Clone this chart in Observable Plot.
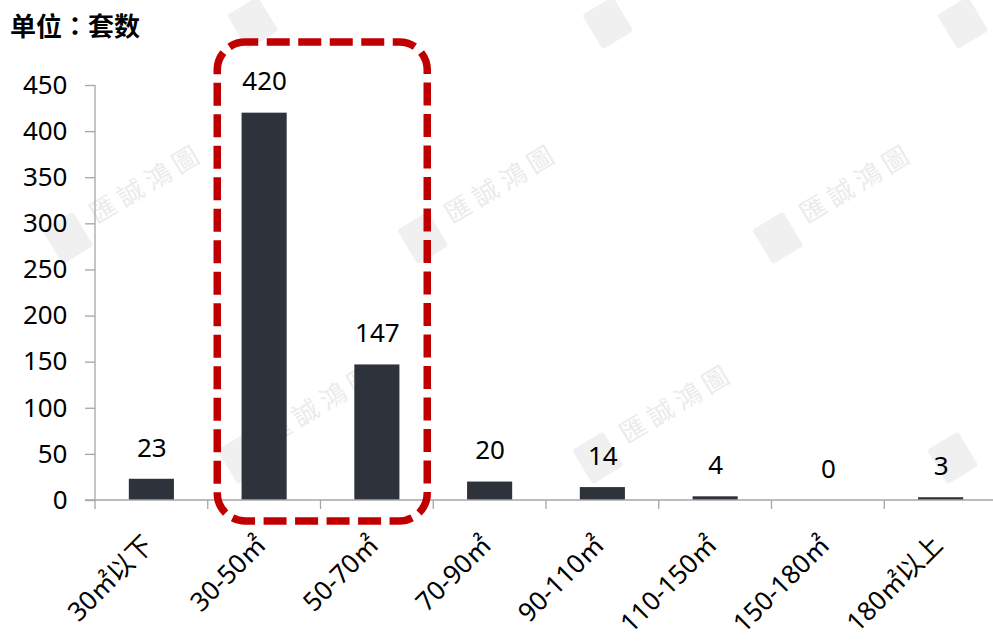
<!DOCTYPE html>
<html><head><meta charset="utf-8">
<script src="https://cdn.jsdelivr.net/npm/d3@7"></script>
<script src="https://cdn.jsdelivr.net/npm/@observablehq/plot@0.6"></script>
<style>
body{margin:0;background:#fff;}
#wrap{position:relative;width:993px;height:644px;overflow:hidden;background:#fff;}
#title{position:absolute;left:10px;top:6px;font:bold 26px "Noto Sans CJK SC",sans-serif;color:#000;z-index:3;}
#title .p{font-family:"Noto Sans CJK TC",sans-serif;}
#wm{position:absolute;left:0;top:0;z-index:1;}
#chart{position:absolute;left:0;top:0;z-index:2;}
</style></head><body>
<div id="wrap"><div id="title">单位<span class="p">：</span>套数</div><svg id="wm" width="993" height="644"></svg><div id="chart"></div></div>
<script>
const categories = ["30㎡以下","30-50㎡","50-70㎡","70-90㎡","90-110㎡","110-150㎡","150-180㎡","180㎡以上"];
const values = [23,420,147,20,14,4,0,3];
const yTicks = [0,50,100,150,200,250,300,350,400,450];
const highlight = ["30-50㎡","50-70㎡"];
const watermarkText = "匯誠鴻圖";

const data = categories.map((c,i)=>({category:c, value:values[i]}));
const W = 993, H = 644, ML = 95, MR = -4, MT = 85, MB = 144;
const font = '"Noto Sans","Noto Sans CJK SC",sans-serif';
const axisColor = "#a6a6a6";

// faint background watermark tiles (text only where the whole tile fits)
(function(){
  const svg = d3.select("#wm");
  const rows = [[-30, 333], [185, 148], [405, 323], [620, 148]];
  for (const [cy, off] of rows) {
    for (let cx = off - 355; cx < W + 200; cx += 355) {
      const g = svg.append("g").attr("transform", `translate(${cx},${cy}) rotate(-31)`);
      g.append("rect").attr("x", -114).attr("y", -16).attr("width", 36).attr("height", 40)
        .attr("rx", 3).attr("fill", "#f0f0f0");
      const fits = cx - 110 > 0 && cx + 70 < W && cy - 70 > 0 && cy + 75 < H;
      if (fits) {
        g.append("text").attr("x", 0).attr("y", 0).attr("text-anchor", "middle")
          .attr("dominant-baseline", "middle").attr("font-family", '"Noto Sans CJK TC",sans-serif')
          .attr("font-size", 26).attr("letter-spacing", 6).attr("fill", "#ebebeb").text(watermarkText);
      }
    }
  }
})();

function decorations(index, scales, vals, dims) {
  const g = d3.create("svg:g");
  const n = categories.length;
  const step = (dims.width - dims.marginLeft - dims.marginRight) / n;
  const left = dims.marginLeft;
  const y0 = scales.y(0), yTop = scales.y(d3.max(yTicks));
  g.append("line").attr("x1", left).attr("x2", left).attr("y1", yTop).attr("y2", y0)
    .attr("stroke", axisColor).attr("stroke-width", 1.3);
  g.append("line").attr("x1", left - 10).attr("x2", dims.width).attr("y1", y0).attr("y2", y0)
    .attr("stroke", axisColor).attr("stroke-width", 1.3);
  for (let i = 0; i <= n; i++) {
    const x = left + i * step;
    g.append("line").attr("x1", x).attr("x2", x).attr("y1", y0).attr("y2", y0 + 9)
      .attr("stroke", axisColor).attr("stroke-width", 1.3);
  }
  const i0 = categories.indexOf(highlight[0]);
  const i1 = categories.indexOf(highlight[highlight.length - 1]);
  const bx0 = left + i0 * step + 9.5;
  const bx1 = left + (i1 + 1) * step - 6;
  const by0 = yTop - 43;
  const by1 = y0 + 21;
  g.append("rect").attr("x", bx0).attr("y", by0).attr("width", bx1 - bx0).attr("height", by1 - by0)
    .attr("rx", 28).attr("ry", 28)
    .attr("fill", "none").attr("stroke", "#c00000").attr("stroke-width", 7.5)
    .attr("stroke-dasharray", "23 8.5").attr("stroke-dashoffset", 10);
  return g.node();
}

const plot = Plot.plot({
  width: W, height: H,
  marginLeft: ML, marginRight: MR, marginTop: MT, marginBottom: MB,
  style: {fontFamily: font, background: "transparent", overflow: "visible"},
  x: {domain: categories, paddingInner: 0.6, paddingOuter: 0.3, round: false, axis: null},
  y: {domain: [0, 450], ticks: yTicks, axis: null},
  marks: [
    Plot.barY(data, {x: "category", y: "value", fill: "#2e323b"}),
    Plot.axisY({ticks: yTicks, tickSize: 10, tickPadding: 18, stroke: axisColor, strokeWidth: 1.3,
      fontSize: 26, fill: "#000", label: null, tickFormat: d => String(d)}),
    Plot.text(data, {x: "category", y: "value", text: d => String(d.value), dy: -31,
      fontSize: 26, fill: "#000"}),
    Plot.text(categories, {x: d => d, frameAnchor: "bottom", text: d => d, rotate: -45,
      textAnchor: "end", dx: 3, dy: 46, fontSize: 26, fill: "#000"}),
    decorations
  ]
});
document.getElementById("chart").appendChild(plot);
</script>
</body></html>
